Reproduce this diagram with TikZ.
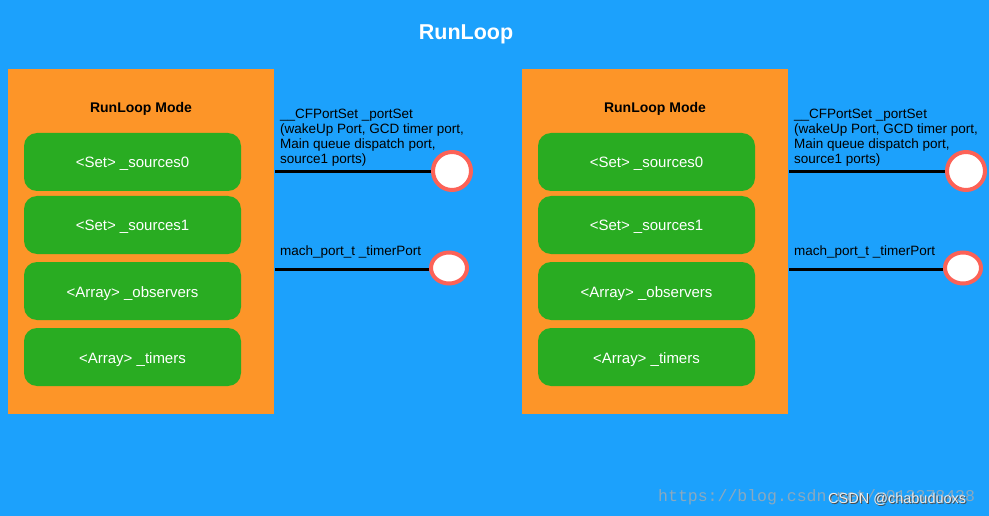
\documentclass[tikz,border=0pt]{standalone}
\usepackage{fontspec}
\usetikzlibrary{shapes.geometric}
\setmainfont{Liberation Sans}
\newfontfamily\wmfont{Liberation Mono}
\definecolor{bgblue}{HTML}{1CA1FC}
\definecolor{modeorange}{HTML}{FD9528}
\definecolor{itemgreen}{HTML}{29AC22}
\definecolor{portred}{HTML}{FC6257}
\definecolor{wmgray}{HTML}{8AA9C0}
\begin{document}
\begin{tikzpicture}[x=1pt,y=-1pt,
  modebox/.style={fill=modeorange,draw=none},
  itembox/.style={fill=itemgreen,draw=none,rounded corners=13pt,minimum width=217pt,minimum height=58pt,text=white,font=\fontsize{15}{16}\selectfont,inner sep=0pt,text height=14pt,text depth=2pt},
  porttext/.style={font=\fontsize{13.5}{15}\selectfont,align=left,inner sep=0pt,text=black},
  portline/.style={line width=3pt,black},
  portcirc/.style={draw=portred,fill=white,line width=4pt,inner sep=0pt,ellipse},
  modetitle/.style={font=\bfseries\fontsize{14}{16}\selectfont,text=black}]
\fill[bgblue] (0,0) rectangle (989,516);
\useasboundingbox (0,0) rectangle (989,516);
\node[font=\bfseries\fontsize{21.5}{24}\selectfont,text=white] (title) at (466,34) {RunLoop};
\foreach \side/\dx in {L/0,R/514}{
  \begin{scope}[xshift=\dx pt]
  \path[modebox] (8,69) rectangle (274,414);
  \coordinate (edge1\side) at (275,172);
  \coordinate (edge2\side) at (275,269);
  \node[modetitle] (mode\side) at (141,109) {RunLoop Mode};
  \node[itembox] (s0\side) at (132.5,162) {<Set> \_sources0};
  \node[itembox] (s1\side) at (132.5,225) {<Set> \_sources1};
  \node[itembox] (ob\side) at (132.5,291) {<Array> \_observers};
  \node[itembox] (ti\side) at (132.5,357) {<Array> \_timers};
  \node[portcirc,minimum width=38pt,minimum height=38pt] at (452,171) (c1\side) {};
  \node[portcirc,minimum width=36pt,minimum height=31pt] at (449,268) (c2\side) {};
  \node[porttext,anchor=north west] (pt1\side) at (280,109) {\_\_CFPortSet \_portSet\\(wakeUp Port, GCD timer port,\\Main queue dispatch port,\\source1 ports)};
  \node[porttext,anchor=base west] (pt2\side) at (280,255) {mach\_port\_t \_timerPort};
  \end{scope}
  \draw[portline] (edge1\side) -- (c1\side.west |- edge1\side);
  \draw[portline] (edge2\side) -- (c2\side.west |- edge2\side);
}
\node[anchor=base west,inner sep=0pt,text=wmgray,font=\wmfont\fontsize{16.5}{18}\selectfont] (wm) at (658,501) {https://blog.csdn.net/u013378438};
\node[anchor=base west,inner sep=0pt,text=black!70,font=\fontsize{14.5}{16}\selectfont] (csdnshadow) at (829,504) {CSDN @chabuduoxs};
\node[anchor=base west,inner sep=0pt,text=white!85!gray,font=\fontsize{14.5}{16}\selectfont] (csdn) at (828,503) {CSDN @chabuduoxs};
\end{tikzpicture}
\end{document}
